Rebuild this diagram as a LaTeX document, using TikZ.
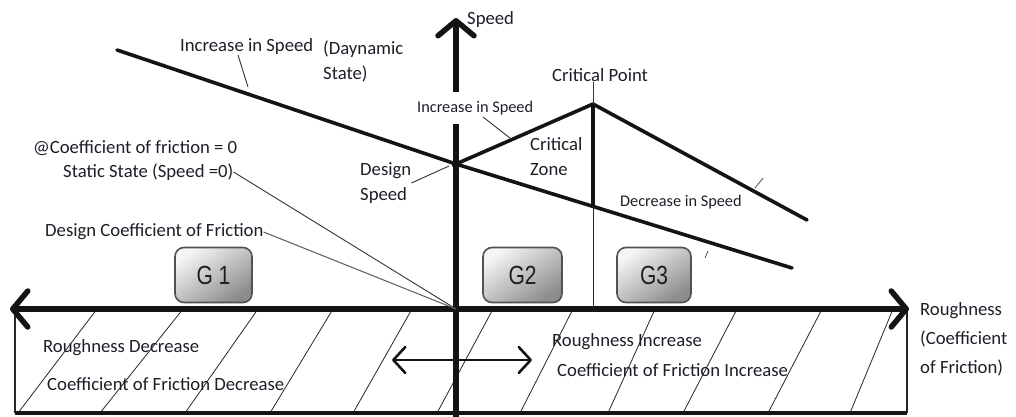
\documentclass[tikz,border=0pt]{standalone}
\usepackage{fontspec}
\setmainfont{Carlito}
\newfontfamily\gfont{Liberation Sans}
\usetikzlibrary{arrows.meta}
\definecolor{txt}{RGB}{30,30,40}
\definecolor{ink}{RGB}{20,20,20}
\begin{document}
\begin{tikzpicture}[x=1pt,y=-1pt,
  lbl/.style={font=\fontsize{18.7}{25}\selectfont, text=txt, inner sep=0pt, anchor=west, align=left},
  slbl/.style={font=\fontsize{16.3}{19}\selectfont, text=txt, inner sep=0pt, anchor=west},
  axisline/.style={draw=ink, line width=5.5pt},
  barb/.tip={Straight Barb[length=15pt,width=36pt,round]},
  sbarb/.tip={Straight Barb[length=12pt,width=26pt,round]},
  speedline/.style={draw=ink, line width=3.6pt, line join=round, line cap=round},
  thin/.style={draw=black!80, line width=0.9pt},
  hatch/.style={draw=black!85, line width=0.8pt},
  gbox/.style={draw=black!68, line width=1.6pt, rounded corners=9pt,
    shading=axis, top color=black!4, middle color=black!14, bottom color=black!45, shading angle=35,
    font=\gfont\fontsize{21}{21}\selectfont, text=black!88, minimum height=55pt},
  tick/.style={draw=black!70, line width=0.8pt}
]
\useasboundingbox (0,0) rectangle (1016,416);

% key coordinates
\coordinate (O) at (456,309);
\coordinate (xl) at (10,309);
\coordinate (xr) at (909,309);
\coordinate (yt) at (456,18);
\coordinate (yb) at (456,418);
\coordinate (D) at (456,164);
\coordinate (C) at (593,104);
\coordinate (Cb) at (593,207);
\coordinate (Cx) at (593,309);
\coordinate (Ls) at (117,50);
\coordinate (Le) at (792,268);
\coordinate (Re) at (807,220);

% hatched band
\foreach \b/\t in {18/97,100/183,185/258,270/333,353/412,437/493,520/573,608/655,683/737,768/822,850/893}
  \draw[hatch] (\b,413) -- (\t,309);
\draw[draw=black!85, line width=1.2pt] (15,309) -- (15,413);
\draw[draw=black!85, line width=1.2pt] (907,309) -- (907,413);
\draw[draw=ink, line width=4pt] (15,413) -- (907,413);

% axes
\draw[axisline, barb-barb] (xl) -- (xr);
\draw[axisline, -barb] (yb) -- (yt);

% speed lines
\draw[speedline] (Ls) -- (D) -- (Le);
\draw[speedline] (D) -- (C) -- (Re);
\draw[draw=ink, line width=4.8pt] (C) -- (Cb);
\draw[draw=black!85, line width=1pt] (Cb) -- (Cx);
\fill[ink] (D) circle (4.5pt);

% small ticks
\coordinate (t1a) at (755,188); \coordinate (t1b) at (763,178);
\coordinate (t2a) at (705,258); \coordinate (t2b) at (708,251);
\draw[tick] (t1a) -- (t1b);
\draw[tick] (t2a) -- (t2b);

% labels
\node[lbl] (speedlbl) at (467,20) {Speed};
\node[lbl] (incdyn) at (180,47) {Increase in Speed};
\node[lbl] (dyn) at (323,61) {(Daynamic\\State)};
\node[lbl] (coef0) at (33,148) {@Coefficient of friction = 0};
\node[lbl] (static) at (63,172) {Static State (Speed =0)};
\node[lbl] (dcf) at (45,232) {Design Coefficient of Friction};
\node[lbl] (ds) at (360,183) {Design\\Speed};
\node[slbl, fill=white, inner ysep=9pt, inner xsep=1pt] (incmid) at (416,108) {Increase in Speed};
\node[lbl] (cp) at (552,75) {Critical Point};
\node[lbl] (cz) at (530,157) {Critical\\Zone};
\node[slbl] (dec) at (620,202) {Decrease in Speed};
\node[lbl] (rd) at (43,348) {Roughness Decrease};
\node[lbl] (cfd) at (47,384) {Coefficient of Friction Decrease};
\node[lbl] (ri) at (552,342) {Roughness Increase};
\node[lbl] (cfi) at (557,370) {Coefficient of Friction Increase};
\node[lbl, font=\fontsize{18.7}{29}\selectfont] (rough) at (920,339) {Roughness\\(Coefficient\\of Friction)};

% G boxes
\node[gbox, minimum width=77pt] (G1) at (213.5,275) {\scalebox{1}[1.25]{G 1}};
\node[gbox, minimum width=79pt] (G2) at (522.5,275) {\scalebox{1}[1.25]{G2}};
\node[gbox, minimum width=74pt] (G3) at (654,275) {\scalebox{1}[1.25]{G3}};

% leaders
\coordinate (incdynA) at (238,55);
\coordinate (incdynB) at (248,87);
\draw[thin] (incdynA) -- (incdynB);
\draw[thin] (static.east) -- (O);
\draw[thin, draw=black!60, line width=1.1pt] (dcf.east) -- (O);
\coordinate (dsEnd) at (449,166);
\draw[thin] (ds.east) -- (dsEnd);
\coordinate (imA) at (483,117);
\coordinate (imB) at (510,138);
\draw[thin] (imA) -- (imB);
\draw[thin] (cp.south -| C) -- (C);

% double arrow
\coordinate (da) at (392,360);
\coordinate (db) at (532,360);
\draw[draw=ink, line width=2.6pt, sbarb-sbarb] (da) -- (db);
\end{tikzpicture}
\end{document}
